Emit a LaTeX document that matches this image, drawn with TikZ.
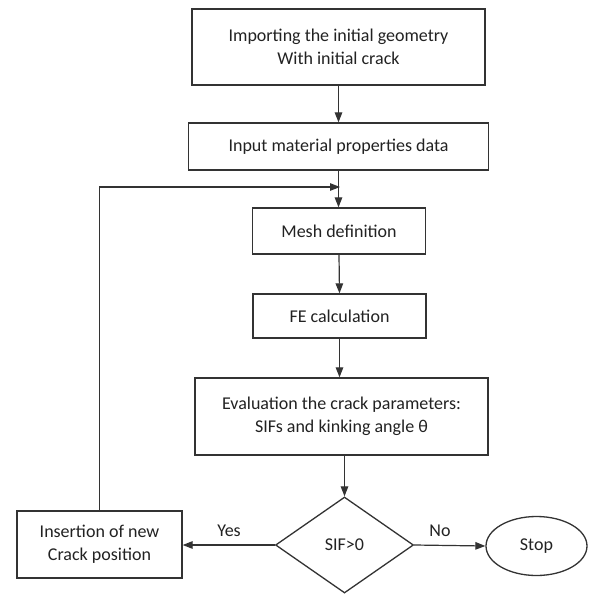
\documentclass[tikz,border=0pt]{standalone}
\usepackage{fontspec}
\setmainfont{Carlito}
\usetikzlibrary{shapes.geometric,arrows.meta}
\definecolor{linec}{HTML}{333333}
\definecolor{textc}{HTML}{222222}
\begin{document}
\begin{tikzpicture}[x=1pt,y=-1pt,
  every node/.style={text=textc,font=\fontsize{18}{23}\selectfont},
  box/.style={draw=linec,line width=1.3pt,rectangle,inner sep=0pt,align=center},
  arr/.style={draw=linec,line width=1.2pt,-{Triangle[length=10pt,width=7.5pt]}},
  lbl/.style={inner sep=0pt}]
\useasboundingbox[fill=white] (0,0) rectangle (590,594);
\node[box,minimum width=293pt,minimum height=76pt] (geo) at (338.5,47) {Importing the initial geometry\\With initial crack};
\node[box,minimum width=300pt,minimum height=47pt] (mat) at (338.5,146.5) {Input material properties data};
\node[box,minimum width=173pt,minimum height=46pt] (mesh) at (339,231) {Mesh definition};
\node[box,minimum width=173pt,minimum height=44pt] (fe) at (339.5,316) {FE calculation};
\node[box,minimum width=293pt,minimum height=77pt] (eval) at (341.5,416.5) {Evaluation the crack parameters:\\SIFs and kinking angle θ};
\node[draw=linec,line width=1.3pt,diamond,aspect=1.4375,minimum width=138pt,minimum height=96pt,inner sep=0pt] (sif) at (344.5,545) {SIF>0};
\node[box,minimum width=165pt,minimum height=67pt] (ins) at (99.5,544.5) {Insertion of new\\Crack position};
\node[draw=linec,line width=1.3pt,ellipse,minimum width=101pt,minimum height=59pt,inner sep=0pt] (stop) at (536.5,546) {Stop};
\coordinate (jn) at (340,187);
\draw[arr] (geo.south) -- (mat.north);
\draw[arr] (mat.south) -- (mesh.north -| mat.south);
\draw[arr] (mesh.south) -- (fe.north);
\draw[arr] (fe.south) -- (fe.south |- eval.north);
\draw[arr] (eval.south -| sif.north) -- (sif.north);
\draw[arr] (sif.west) -- (ins.east |- sif.west);
\draw[arr] (sif.east) -- (stop.west);
\draw[arr] (ins.north) |- (jn);
\node[lbl] (yes) at (229,531) {Yes};
\node[lbl] (no) at (440,531) {No};
\end{tikzpicture}
\end{document}
